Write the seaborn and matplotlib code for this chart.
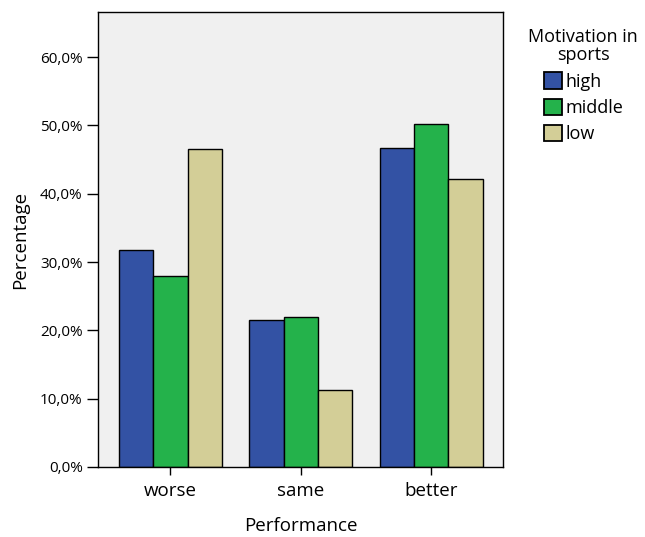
import matplotlib.pyplot as plt
import matplotlib.ticker as mticker
import pandas as pd
import seaborn as sns

performance = ["worse", "same", "better"]
motivation = ["high", "middle", "low"]
pct_high = [31.8, 21.5, 46.7]
pct_middle = [27.9, 21.9, 50.2]
pct_low = [46.6, 11.2, 42.2]

colors = ["#3352A4", "#24B24B", "#D3CE97"]

df = pd.DataFrame({
    "Performance": performance * 3,
    "Motivation": [m for m in motivation for _ in performance],
    "Percentage": pct_high + pct_middle + pct_low,
})

sns.set_style("ticks")
plt.rcParams["font.family"] = ["Open Sans", "DejaVu Sans"]
plt.rcParams["text.color"] = "black"
plt.rcParams["axes.labelcolor"] = "black"
plt.rcParams["xtick.color"] = "black"
plt.rcParams["ytick.color"] = "black"

fig = plt.figure(figsize=(6.45, 5.37), dpi=100)
ax = fig.add_axes([98 / 645, 1 - 467 / 537, 405 / 645, 455 / 537])

sns.barplot(data=df, x="Performance", y="Percentage", hue="Motivation",
            order=performance, hue_order=motivation, palette=colors,
            width=0.79, edgecolor="black", linewidth=1.0, saturation=1,
            ax=ax)

ax.set_facecolor("#F0F0F0")
ax.set_xlim(-0.555, 2.55)
ax.set_ylim(0, 66.6)
ax.set_yticks([0, 10, 20, 30, 40, 50, 60])
ax.yaxis.set_major_formatter(mticker.FuncFormatter(lambda v, p: f"{v:.1f}%".replace(".", ",")))
ax.tick_params(axis="y", length=8, width=1, labelsize=11, pad=3)
ax.tick_params(axis="x", length=6, width=1, labelsize=13.5, pad=5)
for s in ax.spines.values():
    s.set_color("black")
    s.set_linewidth(1)
ax.set_xlabel("Performance", fontsize=13.5, labelpad=12)
ax.set_ylabel("Percentage", fontsize=13.5, labelpad=8)

leg = ax.legend(title="Motivation in\nsports", loc="upper left",
                bbox_to_anchor=(1.045, 0.98), frameon=False, fontsize=13,
                title_fontsize=13, handlelength=1.0, handleheight=1.0,
                handletextpad=0.2, labelspacing=0.45, borderaxespad=0)
leg.get_title().set_multialignment("center")
leg.get_title().set_linespacing(1.0)
for h in leg.legend_handles:
    h.set_edgecolor("black")
    h.set_linewidth(1.3)

fig.savefig("out.png", dpi=100)
